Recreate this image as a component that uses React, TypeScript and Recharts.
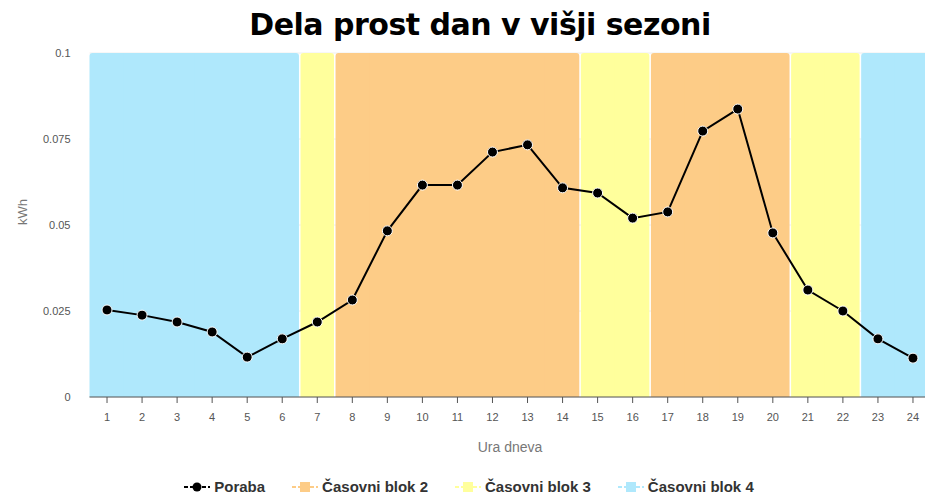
import React from 'react';
import {
  ComposedChart,
  Bar,
  Line,
  XAxis,
  YAxis,
  CartesianGrid,
  Legend,
} from 'recharts';

const HOURS = [1, 2, 3, 4, 5, 6, 7, 8, 9, 10, 11, 12, 13, 14, 15, 16, 17, 18, 19, 20, 21, 22, 23, 24];
const PORABA = [
  0.0253, 0.0238, 0.0218, 0.0189, 0.0116, 0.0169, 0.0218, 0.0282, 0.0483, 0.0616, 0.0616, 0.0712,
  0.0733, 0.0608, 0.0593, 0.052, 0.0538, 0.0773, 0.0837, 0.0477, 0.0311, 0.025, 0.0169, 0.0113,
];
// tariff block for each hour
const BLOCKS = [4, 4, 4, 4, 4, 4, 3, 2, 2, 2, 2, 2, 2, 2, 3, 3, 2, 2, 2, 2, 3, 3, 4, 4];
const Y_TICKS = [0, 0.025, 0.05, 0.075, 0.1];
const BAND_TOP = 0.1;

const COLORS: Record<number, string> = { 2: '#FDCC87', 3: '#FFFF9C', 4: '#AFE8FC' };
const LEGEND = [
  { key: 'poraba', label: 'Poraba', color: '#000' },
  { key: 'b2', label: 'Časovni blok 2', color: COLORS[2] },
  { key: 'b3', label: 'Časovni blok 3', color: COLORS[3] },
  { key: 'b4', label: 'Časovni blok 4', color: COLORS[4] },
];

const data = HOURS.map((h, i) => ({
  hour: h,
  poraba: PORABA[i],
  b2: BLOCKS[i] === 2 ? BAND_TOP : null,
  b3: BLOCKS[i] === 3 ? BAND_TOP : null,
  b4: BLOCKS[i] === 4 ? BAND_TOP : null,
}));

// the chart runs past the right edge of the window, like the original; no scrollbars
if (typeof document !== 'undefined') {
  document.documentElement.style.overflow = 'hidden';
  document.body.style.margin = '0';
  document.body.style.overflow = 'hidden';
}

// band segment: rounded top corners and a thin gap only where the block changes
const BandShape = (props: any) => {
  const { x, y, width, height, index, fill } = props;
  if (!height || height <= 0) return null;
  const startBand = index === 0 || BLOCKS[index - 1] !== BLOCKS[index];
  const endBand = index === BLOCKS.length - 1 || BLOCKS[index + 1] !== BLOCKS[index];
  // overlap neighbours inside a band so no seams show
  const x0 = startBand ? x + (index > 0 ? 0.75 : 0) : x - 0.6;
  const x1 = endBand ? x + width - (index < BLOCKS.length - 1 ? 0.75 : 0) : x + width + 0.6;
  const rl = startBand ? 3 : 0;
  const rr = endBand ? 3 : 0;
  const yb = y + height;
  const d = `M${x0},${yb} L${x0},${y + rl} Q${x0},${y} ${x0 + rl},${y} L${x1 - rr},${y} Q${x1},${y} ${x1},${y + rr} L${x1},${yb} Z`;
  return <path d={d} fill={fill} />;
};

const renderLegend = () => (
  <div
    style={{
      display: 'flex',
      justifyContent: 'center',
      alignItems: 'center',
      gap: 27,
      fontFamily: '"Liberation Sans", Arial, sans-serif',
      fontSize: 15,
      fontWeight: 'bold',
      color: '#333',
      paddingRight: 8,
    }}
  >
    {LEGEND.map((item) => (
      <div key={item.key} style={{ display: 'flex', alignItems: 'center', gap: 4 }}>
        <svg width={26} height={12}>
          <line x1={0} y1={6} x2={26} y2={6} stroke={item.color} strokeWidth={2} strokeDasharray="4 2" />
          {item.key === 'poraba' ? (
            <circle cx={13} cy={6} r={4.5} fill="#000" />
          ) : (
            <rect x={8} y={1} width={10} height={10} fill={item.color} />
          )}
        </svg>
        <span>{item.label}</span>
      </div>
    ))}
  </div>
);

export default function App() {
  return (
    <div style={{ position: 'relative', width: 925, height: 498, overflow: 'hidden' }}>
      <div
        style={{
          position: 'absolute',
          left: 8,
          width: 944,
          top: 7,
          textAlign: 'center',
          fontFamily: '"DejaVu Sans", Verdana, sans-serif',
          fontWeight: 'bold',
          fontSize: 30,
          letterSpacing: -0.5,
          color: '#000',
          zIndex: 2,
        }}
      >
        Dela prost dan v višji sezoni
      </div>
      <div style={{ position: 'absolute', left: 8, top: 8 }}>
        <ComposedChart
          width={930}
          height={490}
          data={data}
          barCategoryGap={0}
          margin={{ top: 45, right: 7.5, left: 0, bottom: 5 }}
        >
          <CartesianGrid vertical={false} stroke="#eee" />
          <XAxis
            dataKey="hour"
            stroke="#555"
            tick={{ fill: '#555', fontSize: 11, fontFamily: '"Liberation Sans", Arial, sans-serif' }}
            tickSize={6}
            tickMargin={10}
            height={60}
            label={{
              value: 'Ura dneva',
              position: 'insideBottom',
              offset: 5,
              fill: '#777',
              fontSize: 14,
              fontFamily: '"Liberation Sans", Arial, sans-serif',
            }}
          />
          <YAxis
            domain={[0, 0.1]}
            ticks={Y_TICKS}
            width={81.5}
            axisLine={false}
            tickLine={false}
            tickSize={6}
            tickMargin={13}
            tick={{ fill: '#555', fontSize: 11, fontFamily: '"Liberation Sans", Arial, sans-serif' }}
            label={{
              value: 'kWh',
              angle: -90,
              position: 'insideLeft',
              offset: 14,
              fill: '#777',
              fontSize: 13,
              fontFamily: '"Liberation Sans", Arial, sans-serif',
            }}
          />
          <Legend
            verticalAlign="bottom"
            height={36}
            content={renderLegend}
            wrapperStyle={{ top: 470, left: 0, width: 930 }}
          />
          <Bar dataKey="b2" stackId="bg" fill={COLORS[2]} shape={BandShape} isAnimationActive={false} />
          <Bar dataKey="b3" stackId="bg" fill={COLORS[3]} shape={BandShape} isAnimationActive={false} />
          <Bar dataKey="b4" stackId="bg" fill={COLORS[4]} shape={BandShape} isAnimationActive={false} />
          <Line
            dataKey="poraba"
            stroke="#000"
            strokeWidth={2}
            dot={{ r: 5, fill: '#000', stroke: '#fff', strokeWidth: 1 }}
            isAnimationActive={false}
          />
        </ComposedChart>
      </div>
    </div>
  );
}
